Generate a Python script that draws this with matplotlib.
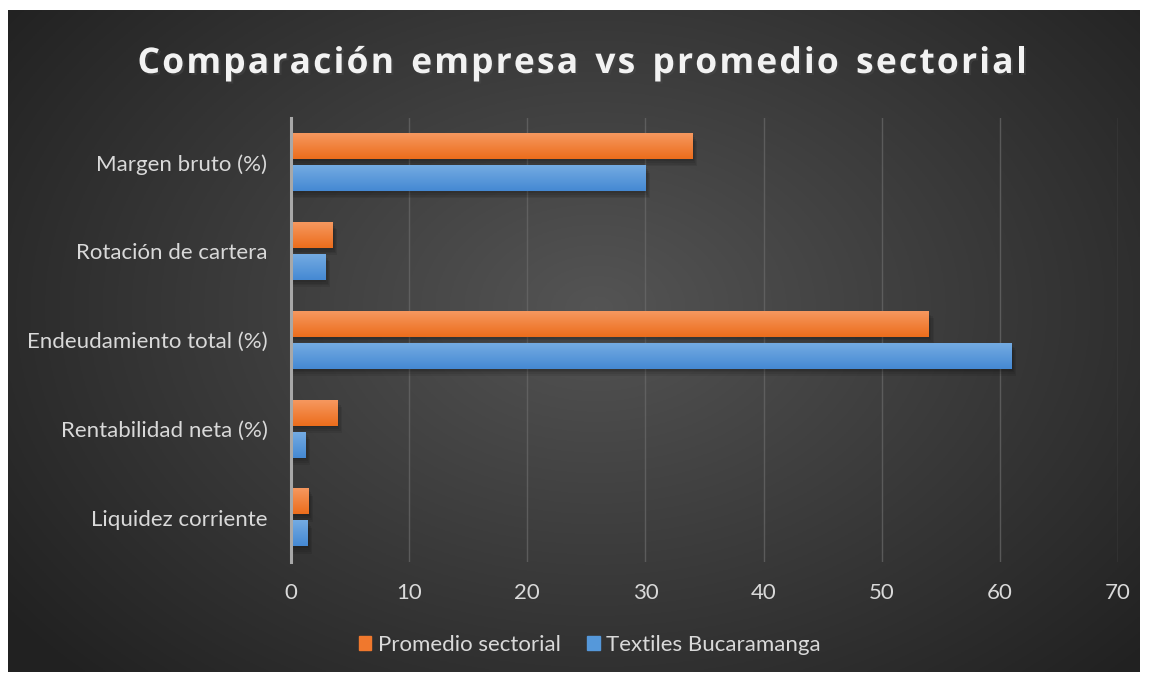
import matplotlib
matplotlib.use("Agg")
import matplotlib.pyplot as plt
import matplotlib.patheffects as pe
from matplotlib.patches import Rectangle
import numpy as np

# data (bottom to top, as drawn)
categories = ['Liquidez corriente', 'Rentabilidad neta (%)', 'Endeudamiento total (%)',
              'Rotación de cartera', 'Margen bruto (%)']
sector = [1.5, 3.9, 54, 3.5, 34]
empresa = [1.4, 1.2, 61, 2.9, 30]
series_names = ['Promedio sectorial', 'Textiles Bucaramanga']
xticks = [0, 10, 20, 30, 40, 50, 60, 70]
title = 'Comparación empresa vs promedio sectorial'

plt.rcParams['font.family'] = ['Lato', 'DejaVu Sans']

W, H = 1149, 677
fig = plt.figure(figsize=(W / 100, H / 100), dpi=100, facecolor='white')

# chart background with radial gradient
bg = fig.add_axes([8 / W, 5 / H, 1132 / W, 662 / H])
bg.set_axis_off()
yy, xx = np.mgrid[0:1:300j, 0:1:500j]
r = np.sqrt(((xx - 0.52) / 0.62) ** 2 + ((yy - 0.45) / 0.75) ** 2)
shade = np.clip(0.33 - 0.19 * r, 0.13, 0.33)
bg.imshow(np.dstack([shade] * 3), extent=[0, 1, 0, 1], aspect='auto', origin='upper')
bg.set_xlim(0, 1)
bg.set_ylim(0, 1)

ax = fig.add_axes([291 / W, 1 - 562 / H, (1118 - 291) / W, (562 - 118) / H])
ax.set_facecolor('none')

ypos = np.arange(len(categories))
h = 0.29
off = 0.18


def grad_bar(y, w, top, bottom):
    # soft shadow
    for k in range(4):
        d = 0.1 + 0.1 * k
        ax.add_patch(Rectangle((0, y - h / 2 - 0.02 - 0.02 * k), w + d, h, color='black',
                               alpha=0.08, lw=0, zorder=2))
    top = np.array(matplotlib.colors.to_rgb(top))
    bottom = np.array(matplotlib.colors.to_rgb(bottom))
    t = np.linspace(0, 1, 50)[:, None]
    img = top * (1 - t) + bottom * t
    ax.imshow(img[:, None, :], extent=[0, w, y - h / 2, y + h / 2], aspect='auto',
              origin='upper', zorder=3, interpolation='bilinear')


for y, s, e in zip(ypos, sector, empresa):
    grad_bar(y + off, s, '#f6985f', '#ec6d1c')
    grad_bar(y - off, e, '#74abe2', '#4589d3')

ax.set_xlim(0, 70)
ax.set_ylim(-0.5, len(categories) - 0.5)

ax.set_xticks(xticks)
ax.set_yticks(ypos)
ax.set_yticklabels(categories)
ax.tick_params(axis='both', length=0, colors='#d9d9d9', labelsize=16)
ax.tick_params(axis='x', pad=15)
ax.tick_params(axis='y', pad=17)
ax.grid(axis='x', color='#6a6a6a', lw=1, alpha=0.7, zorder=1)
ax.set_axisbelow(True)
for side in ['top', 'right', 'bottom']:
    ax.spines[side].set_visible(False)
ax.spines['left'].set_color('#a8a8a8')
ax.spines['left'].set_linewidth(2.2)
ax.spines['left'].set_zorder(5)

# title with letter spacing
fig.canvas.draw()
renderer = fig.canvas.get_renderer()
fs = 25.5
spacing = 2.2
widths = []
for ch in title:
    t = fig.text(0, 0, ch if ch != ' ' else 'n', fontsize=fs, fontweight='bold', family='Open Sans')
    widths.append(t.get_window_extent(renderer).width * (0.55 if ch == ' ' else 1))
    t.remove()
total = sum(widths) + spacing * (len(title) - 1)
x = 582 - total / 2
for ch, w in zip(title, widths):
    if ch != ' ':
        fig.text(x / W, 1 - 64 / H, ch, fontsize=fs, fontweight='bold', family='Open Sans',
                 color='#f2f2f2', va='center', ha='left',
                 path_effects=[pe.withSimplePatchShadow(offset=(1.5, -1.5), alpha=0.5)])
    x += w + spacing

# legend
handles = [Rectangle((0, 0), 1, 1, color='#f0782d'), Rectangle((0, 0), 1, 1, color='#5598da')]
fig.legend(handles, series_names, loc='center', bbox_to_anchor=(590 / W, 1 - 645 / H),
           ncol=2, frameon=False, fontsize=16, labelcolor='#d9d9d9',
           handlelength=0.55, handleheight=0.55, handletextpad=0.3, columnspacing=1.2)

fig.savefig('out.png', dpi=100, facecolor='white')
